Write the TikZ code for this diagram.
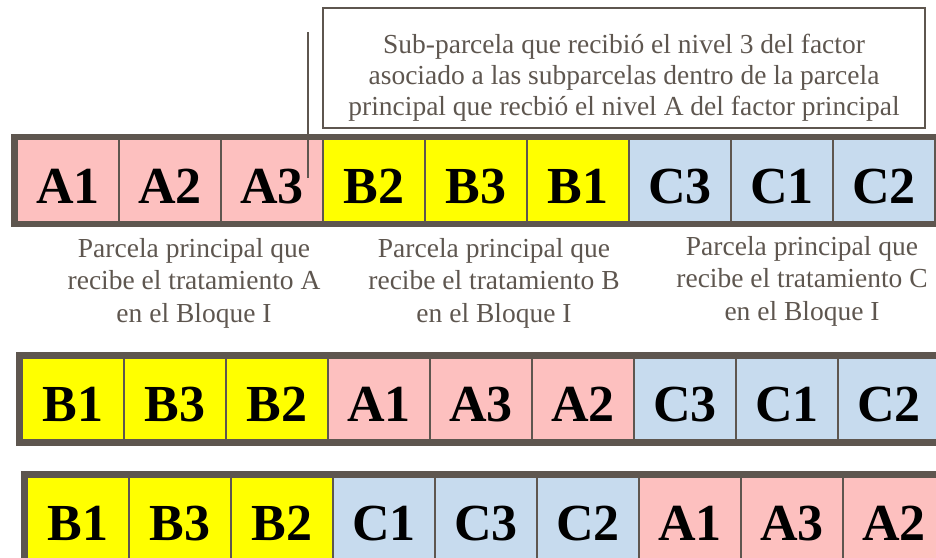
\documentclass[tikz,border=0pt]{standalone}
\usepackage{fontspec}
\setmainfont{Liberation Serif}
\usetikzlibrary{fit,calc}
\definecolor{frame}{HTML}{5E564F}
\definecolor{pinkc}{HTML}{FDC0BF}
\definecolor{yellowc}{HTML}{FFFF00}
\definecolor{bluec}{HTML}{C7DBEE}
\tikzset{
  cell/.style={draw=frame,line width=1.6pt,minimum width=102pt,minimum height=82pt,inner sep=0pt,
    text height=45pt,text depth=0pt,font=\fontsize{52}{52}\selectfont\bfseries},
  rowframe/.style={draw=frame,line width=5pt,inner sep=2.5pt},
  plotlabel/.style={text=frame,align=center,font=\fontsize{27.5}{32.5}\selectfont},
  notebox/.style={draw=frame,line width=1.3pt,text=frame,align=center,minimum width=602pt,
    minimum height=120pt,text height=94pt,text depth=0pt,font=\fontsize{27.5}{31}\selectfont}
}
\begin{document}
\begin{tikzpicture}[x=1pt,y=-1pt]
  \useasboundingbox (0,0) rectangle (936,557);
  % bloque I
  \foreach \lab/\col [count=\i] in {A1/pinkc,A2/pinkc,A3/pinkc,B2/yellowc,B3/yellowc,B1/yellowc,C3/bluec,C1/bluec,C2/bluec}
    \node[cell,fill=\col] (ra\i) at ({17+102*\i-51},180.5) {\lab};
  \node[rowframe,fit=(ra1)(ra9)] (bloqueI) {};
  % bloque II
  \foreach \lab/\col [count=\i] in {B1/yellowc,B3/yellowc,B2/yellowc,A1/pinkc,A3/pinkc,A2/pinkc,C3/bluec,C1/bluec,C2/bluec}
    \node[cell,fill=\col] (rb\i) at ({22+102*\i-51},399) {\lab};
  \node[rowframe,fit=(rb1)(rb9)] (bloqueII) {};
  % bloque III
  \foreach \lab/\col [count=\i] in {B1/yellowc,B3/yellowc,B2/yellowc,C1/bluec,C3/bluec,C2/bluec,A1/pinkc,A3/pinkc,A2/pinkc}
    \node[cell,fill=\col] (rc\i) at ({27+102*\i-51},518) {\lab};
  \node[rowframe,fit=(rc1)(rc9)] (bloqueIII) {};
  % nota y marca
  \node[notebox] (nota) at (624,68) {Sub-parcela que recibió el nivel 3 del factor\\asociado a las subparcelas dentro de la parcela\\principal que recbió el nivel A del factor principal};
  \coordinate (marcaA) at (308,32);
  \coordinate (marcaB) at (308,178);
  \draw[frame,line width=1.3pt] (marcaA) -- (marcaB);
  % parcelas principales
  \node[plotlabel] (lblA) at (194,283) {Parcela principal que\\recibe el tratamiento A\\en el Bloque I};
  \node[plotlabel] (lblB) at (494,283) {Parcela principal que\\recibe el tratamiento B\\en el Bloque I};
  \node[plotlabel] (lblC) at (802,281) {Parcela principal que\\recibe el tratamiento C\\en el Bloque I};
\end{tikzpicture}
\end{document}
